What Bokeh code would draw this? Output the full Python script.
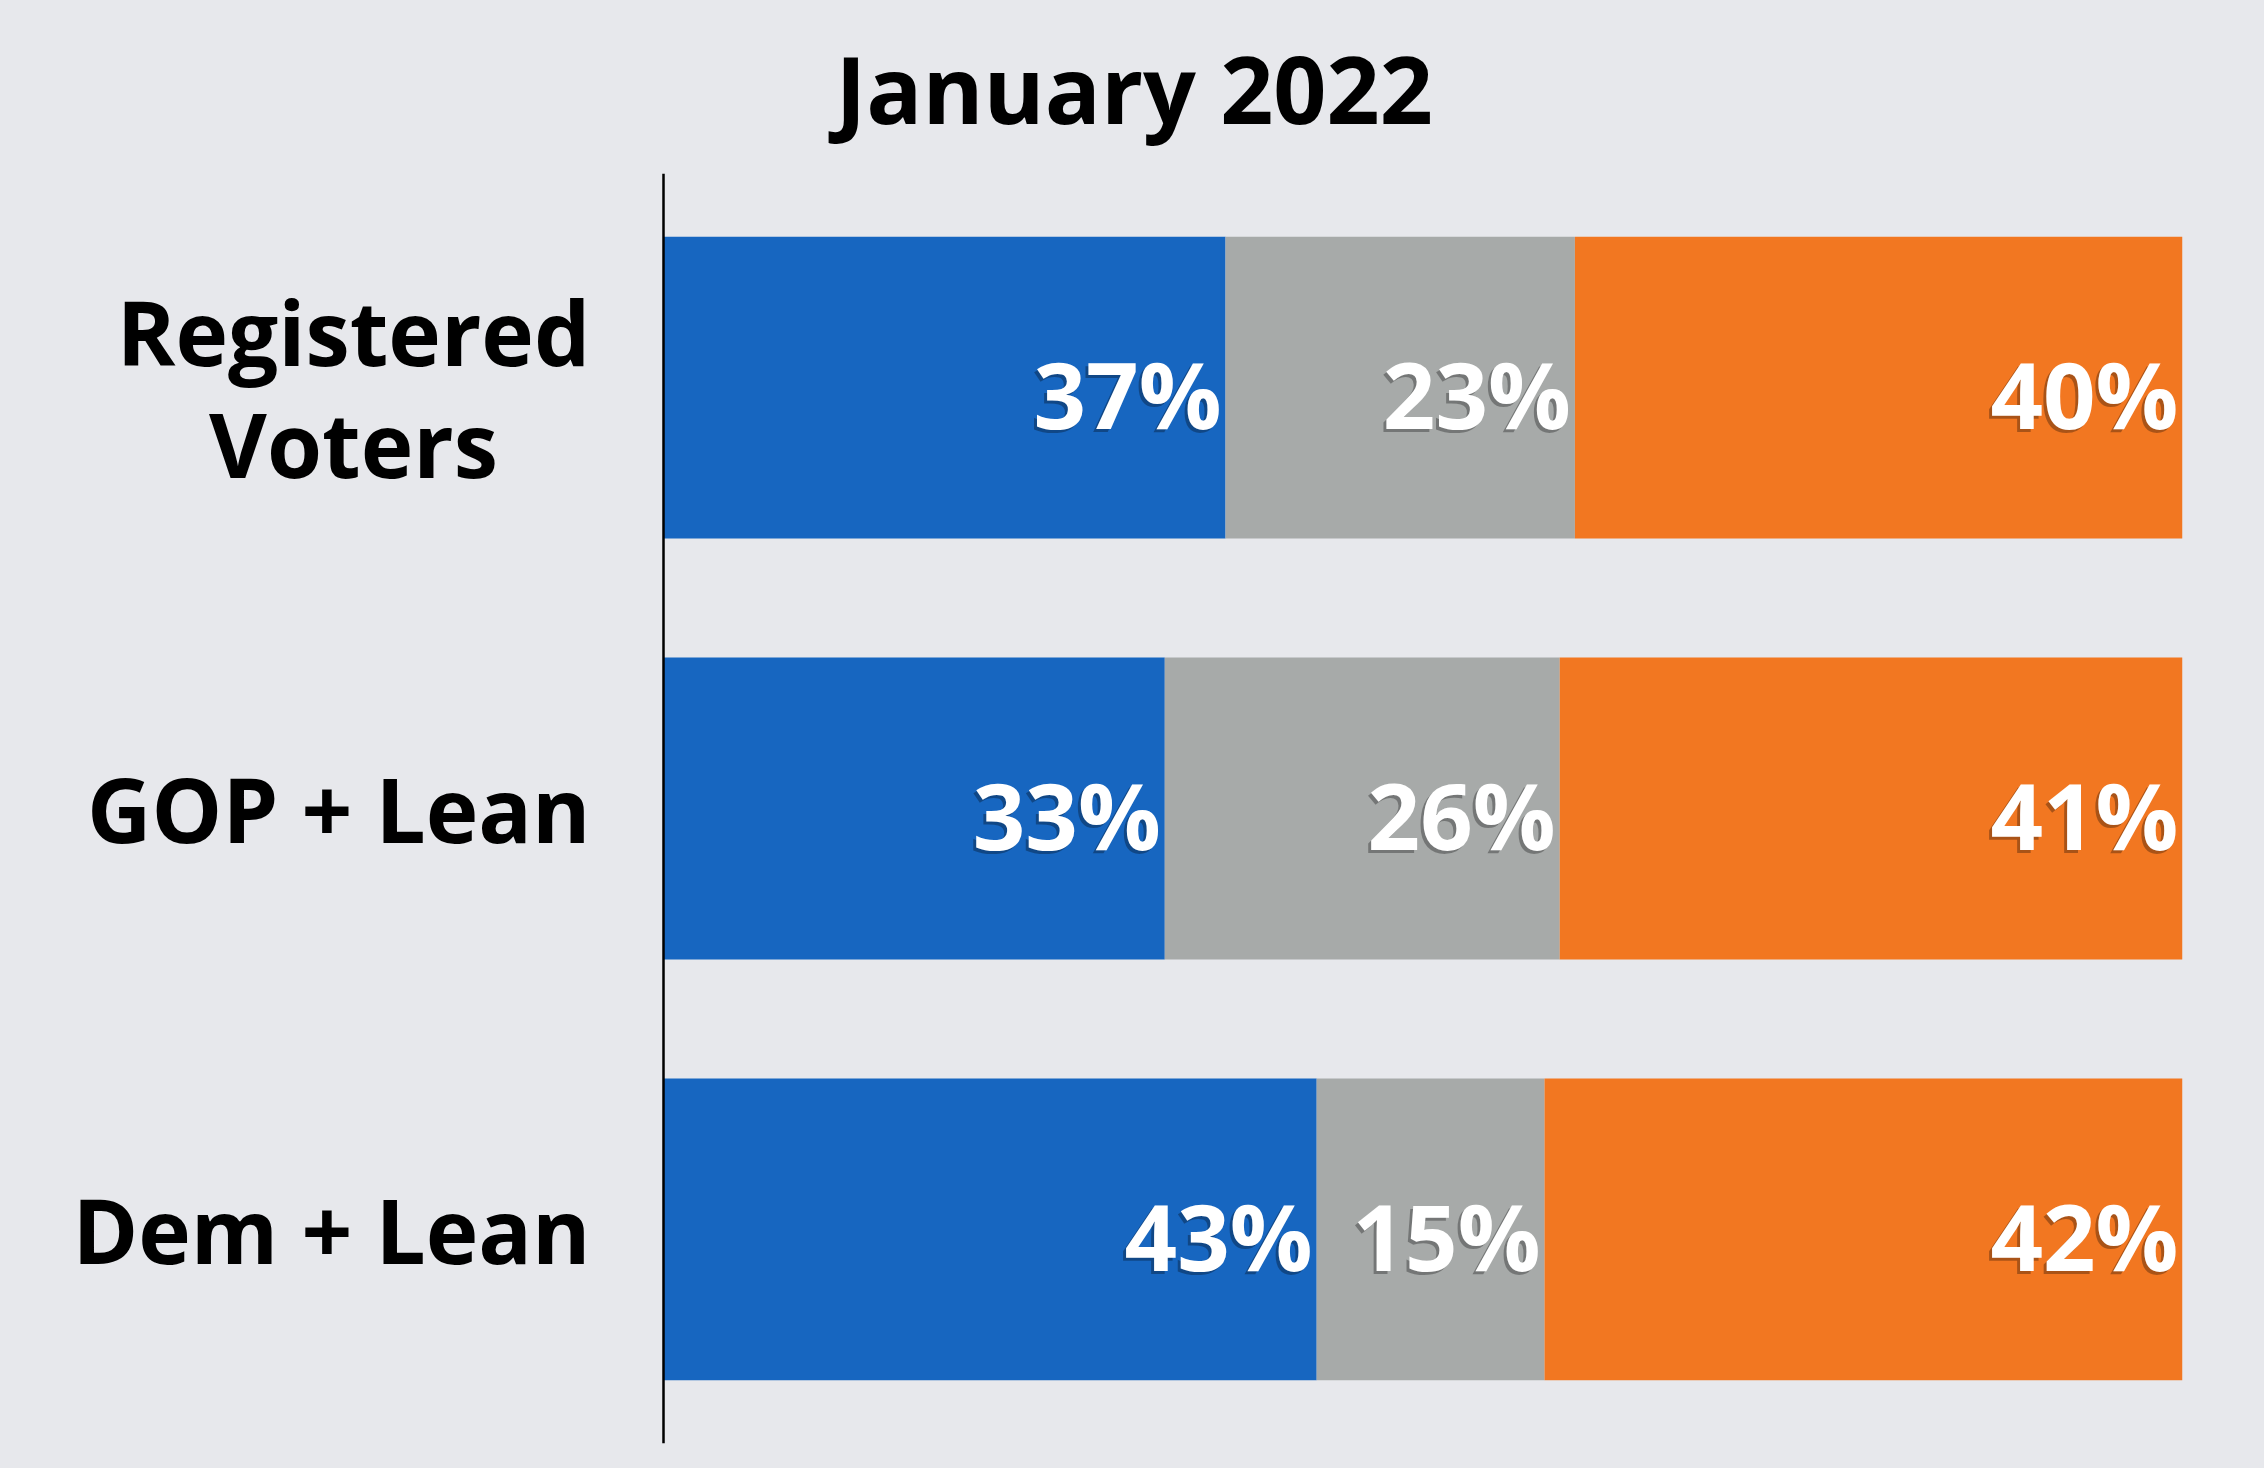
from bokeh.plotting import figure
from bokeh.models import ColumnDataSource, FactorRange, Range1d, Title, Span
from bokeh.core.properties import value, field
from bokeh.embed import file_html
from bokeh.resources import INLINE

# ---- data ----
categories = ["Registered\nVoters", "GOP + Lean", "Dem + Lean"]
blue_values = [37, 33, 43]
gray_values = [23, 26, 15]
orange_values = [40, 41, 42]
title_text = "January 2022"

FONT = "Open Sans"
BG = "#E7E8EC"
BLUE = "#1766C0"
GRAY = "#A7AAA9"
ORANGE = "#F27721"

# layout: the value axis (0..100) spans 663px..2182px; room for labels on the left
AXIS_LEFT_PX = 663
AXIS_RIGHT_PX = 2182
px_per_unit = (AXIS_RIGHT_PX - AXIS_LEFT_PX) / 100.0
x_start = -AXIS_LEFT_PX / px_per_unit

factors = list(reversed(categories))

p = figure(
    width=2248, height=1452,
    y_range=FactorRange(factors=factors, range_padding=0.0057),
    x_range=Range1d(x_start, 100),
    output_backend="svg", toolbar_location=None,
    min_border_left=0, min_border_right=2248 - AXIS_RIGHT_PX,
    min_border_top=173, min_border_bottom=9,
    background_fill_color=BG, border_fill_color=BG,
    outline_line_color=None,
)

p.title = Title(text=title_text, align="left", offset=835,
                text_font=FONT, text_font_size="93px", text_font_style="bold",
                text_color="black", standoff=45)

ends_gray = [b + g for b, g in zip(blue_values, gray_values)]
ends_orange = [b + g + o for b, g, o in zip(blue_values, gray_values, orange_values)]

src = ColumnDataSource(dict(
    cat=categories,
    b0=[0] * len(categories), b1=blue_values,
    g0=blue_values, g1=ends_gray,
    o0=ends_gray, o1=ends_orange,
    bl=[f"{v}%" for v in blue_values],
    gl=[f"{v}%" for v in gray_values],
    ol=[f"{v}%" for v in orange_values],
))

H = 0.717
p.hbar(y="cat", left="b0", right="b1", height=H, source=src, color=BLUE, line_color=None)
p.hbar(y="cat", left="g0", right="g1", height=H, source=src, color=GRAY, line_color=None)
p.hbar(y="cat", left="o0", right="o1", height=H, source=src, color=ORANGE, line_color=None)

for xcol, lcol in (("b1", "bl"), ("g1", "gl"), ("o1", "ol")):
    p.text(x=xcol, y="cat", text=lcol, source=src,
           text_align="right", text_baseline="middle",
           x_offset=-7, y_offset=9,
           text_font=value(FONT), text_font_size="92px", text_font_style="bold",
           text_color="#000000", text_alpha=0.3)
    p.text(x=xcol, y="cat", text=lcol, source=src,
           text_align="right", text_baseline="middle",
           x_offset=-4, y_offset=6,
           text_font=value(FONT), text_font_size="92px", text_font_style="bold",
           text_color="white")

# category labels left of the axis line (two-line label centred, others right-aligned)
label_center_x = (353 - AXIS_LEFT_PX) / px_per_unit
label_right_x = (590 - AXIS_LEFT_PX) / px_per_unit
lab_src = ColumnDataSource(dict(
    cat=categories,
    text=categories,
    lx=[label_center_x if "\n" in c else label_right_x for c in categories],
    align=["center" if "\n" in c else "right" for c in categories],
))
p.text(x="lx", y="cat", text="text", source=lab_src,
       text_align=field("align"), text_baseline="middle",
       text_font=value(FONT), text_font_size="89px", text_font_style="bold",
       text_color="black", text_line_height=0.92)

p.add_layout(Span(location=0, dimension="height", line_color="black", line_width=2.5))

p.xaxis.visible = False
p.yaxis.visible = False
p.xgrid.grid_line_color = None
p.ygrid.grid_line_color = None

html = file_html(p, INLINE).replace("<body>", '<body style="background-color:#E7E8EC;">')
open("out.html", "w").write(html)
